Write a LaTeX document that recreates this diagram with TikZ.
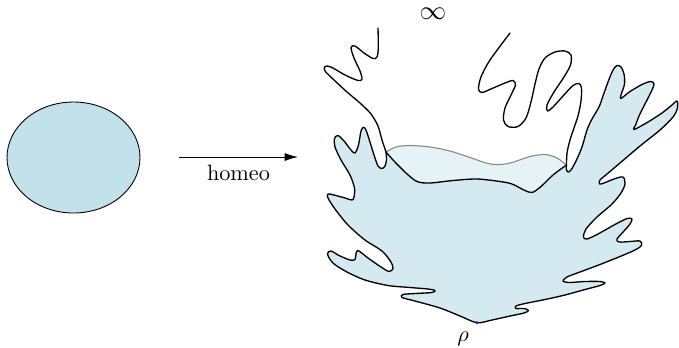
\documentclass[tikz,border=0pt]{standalone}
\usetikzlibrary{arrows.meta,shapes.geometric}
\definecolor{discblue}{HTML}{C2E1EB}
\definecolor{blobblue}{HTML}{D5EAF0}
\definecolor{rimblue}{HTML}{E5F3F7}
\definecolor{rimgray}{HTML}{8A8A8A}
\definecolor{dotblue}{HTML}{1B2A80}
\tikzset{edge/.style={line width=0.6pt,line join=round,line cap=round}}

% pieces of the blob, in pixel units
\newcommand\leftcurve{plot[smooth,tension=0.5] coordinates {(378,28) (378.3,48) (377,57) (373,58.5) (364,53) (355,46) (351,47.5) (354,58) (360,71) (362,79) (358,80.5) (345,75) (331,67) (325,66.5) (325,71) (334,80) (347,92) (360,103) (371,114) (378,126) (382,140) (385,149) (386,152)}}
\newcommand\outline{plot[smooth,tension=0.5] coordinates {(386,152) (386.5,160) (385,166) (382,168.5) (378,166) (374,155) (370,142) (366,130) (363.5,127.3) (361,131) (358.5,145) (355,153) (351,150) (344,141) (338,135.5) (334.5,138.5) (335,147) (341,160) (350,175) (354.5,188) (354,197) (352,200) (345,198) (334,195) (328,194) (328,198) (335,209) (348,225) (365,240) (382,251) (391,262) (393,268.5) (389,271.5) (381,267) (368,258) (358,250.5) (356,254) (355,259.5) (350,260) (339,255.5) (331,251) (327.5,254) (333,263) (347,272) (365,280) (388,285.5) (410,287.5) (428,289) (435,290.5) (432,292.5) (415,293.5) (403,294.5) (402,297.5) (415,301) (440,308) (460,316) (477,322.7) (492,320) (510,316) (524,313) (528.5,310.5) (524,308.5) (516,308.5) (516,306) (525,303.5) (545,299.5) (565,295) (585,289.5) (600,285.5) (605,283) (600,281.5) (585,281.5) (569,282.5) (563,281) (567,277) (580,272) (600,264.5) (620,256.5) (635,250) (641.5,245.5) (640,241) (630,241.5) (619,242) (617,239) (624,231) (630,224) (632,219) (627,218.5) (614,225) (598,234) (587,239) (583.5,237) (586,229) (597,217) (612,204) (621,193) (625,184) (623,177) (614,179) (604,183) (599.5,184) (600,180) (607,174) (620,163) (640,146) (660,130) (673,117) (677.5,108) (677,101) (672,105) (662,113) (648,122) (634,129.5) (636,124) (639,116) (646,102) (652,90) (654,84) (651,81.5) (643,84) (630,91.5) (621,98.5) (621,95) (624.5,84) (624,74) (621,67) (617,65.5) (613,70) (608,82) (603,96) (599,107) (592,119) (587,130) (582,147) (576,161) (571,170) (568,172) (566.3,169) (566.5,165)}}
\newcommand\rightcurve{plot[smooth,tension=0.5] coordinates {(566.5,165) (567,153) (570,140) (574,128) (578,116) (581,101) (581.5,88) (579,83.5) (573,85.5) (563,96) (553,107) (547.5,111) (547,105) (554,92) (564,77) (570.5,65) (571,55) (565,51) (555,52) (545,58) (539,69) (535,84) (531,102) (526,118) (518,126.5) (508,126.5) (503.5,120) (505,108) (511,95) (515.5,85) (513,80.5) (505,83) (492,88.5) (482,92.5) (478.5,89) (481,77) (490,60) (510,33)}}
\newcommand\innerback{-- plot[smooth,tension=0.5] coordinates {(566.5,165) (553,175) (541,186.5) (532,192.5) (524,190) (512,184) (500,181.5) (477,179) (453,180.5) (430,183) (417,181.5) (406,173) (394,161) (386,152)}}
\newcommand\rimcurve{plot[smooth,tension=0.5] coordinates {(386,152) (396,147) (410,145.5) (430,147) (450,151) (470,157.5) (488,163.5) (500,164.5) (512,162.5) (530,156.5) (545,154.5) (557,158) (566.5,165)}}

\begin{document}
\begin{tikzpicture}[x=0.45pt,y=-0.45pt]
\useasboundingbox (0,0) rectangle (679,347);

% disc and the arrow
\node[ellipse,draw,fill=discblue,inner sep=0pt,minimum width=59.85pt,minimum height=49.95pt] (disc) at (73.5,157.5) {};
\coordinate (homeostart) at (179,157);
\coordinate (homeoend) at (298,157);
\draw[-{Latex[length=6pt,width=3.6pt]}] (homeostart) -- (homeoend) node[midway,below] (homeolabel) {homeo};

% the blob
\fill[blobblue] \outline \innerback -- cycle;
\fill[rimblue] \rimcurve \innerback -- cycle;
\draw[rimgray,line width=0.5pt] \rimcurve;
\draw[edge] \leftcurve \outline \rightcurve;
\draw[edge] (566.5,165) \innerback;

% labels
\node[font=\large,inner sep=0pt] (infty) at (433,14) {$\infty$};
\coordinate (rhopt) at (477,322.7);
\fill[dotblue] (rhopt) circle (1.7);
\node (rholabel) at (463,339) {$\rho$};
\end{tikzpicture}
\end{document}
